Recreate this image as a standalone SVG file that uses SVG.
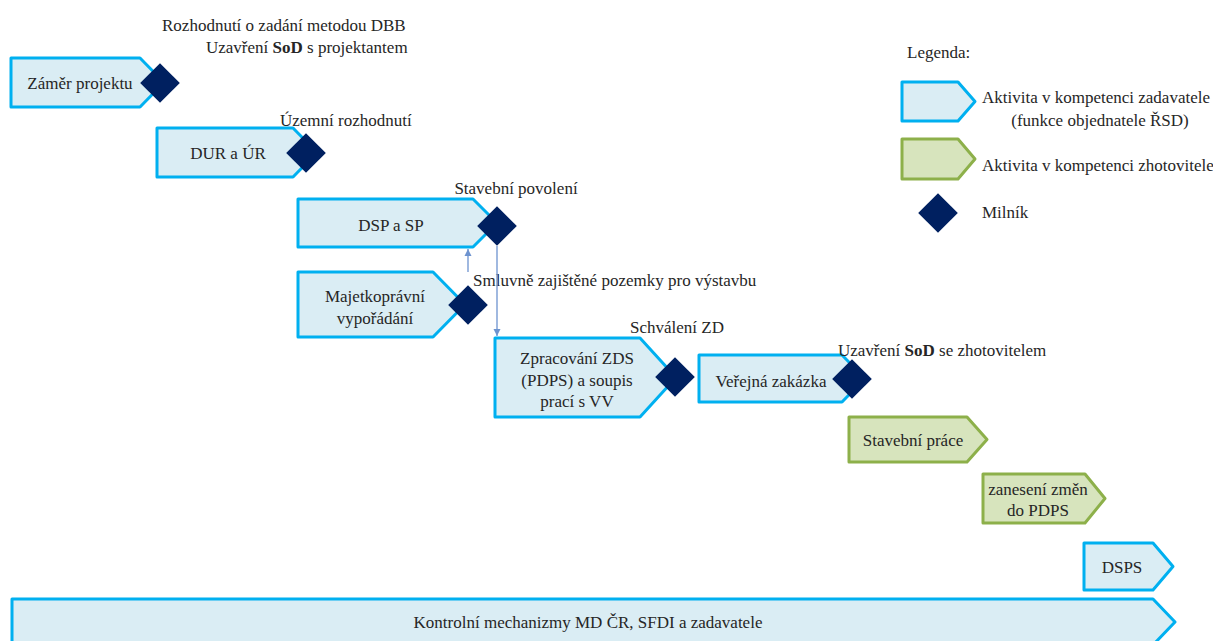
<svg xmlns="http://www.w3.org/2000/svg" width="1213" height="641" viewBox="0 0 1213 641">
<style>
text{font-family:"Liberation Serif","Times New Roman",serif;font-size:17px;fill:#262626}
.c{text-anchor:middle;dominant-baseline:central}
.s{dominant-baseline:central}
.blue{fill:#daedf4;stroke:#00b0f0;stroke-width:3;stroke-linejoin:round}
.green{fill:#d7e4bd;stroke:#8db04a;stroke-width:3;stroke-linejoin:round}
.ms{fill:#002060}
.conn{stroke:#6d93cf;stroke-width:1.3;fill:none}
</style>
<defs>
<marker id="ah" markerWidth="8" markerHeight="8" refX="7" refY="4" orient="auto" markerUnits="userSpaceOnUse">
<path d="M0,0.5 L7,4 L0,7.5 Z" fill="#6d93cf"/>
</marker>
</defs>
<rect width="1213" height="641" fill="#ffffff"/>

<g id="n-zamer">
<path class="blue" d="M11,58 H140 L164,82.5 L140,107 H11 Z"/>
<text class="c" x="80" y="83">Záměr projektu</text>
<rect class="ms" x="146" y="69" width="28" height="28" transform="rotate(45 160 83)"/>
<text x="162" y="25" class="s">Rozhodnutí o zadání metodou DBB</text>
<text x="206" y="47" class="s">Uzavření <tspan font-weight="bold">SoD</tspan> s projektantem</text>
</g>

<g id="n-dur">
<path class="blue" d="M157,128 H293 L317,152.5 L293,177 H157 Z"/>
<text class="c" x="228" y="153">DUR a ÚR</text>
<rect class="ms" x="292" y="139" width="28" height="28" transform="rotate(45 306 153)"/>
<text x="280" y="120" class="s">Územní rozhodnutí</text>
</g>

<g id="n-dsp">
<path class="blue" d="M298,199 H473 L497,223 L473,247 H298 Z"/>
<text class="c" x="391" y="225">DSP a SP</text>
<rect class="ms" x="483" y="212" width="28" height="28" transform="rotate(45 497 226)"/>
<text class="c" x="516" y="188">Stavební povolení</text>
</g>

<g id="n-majetek">
<path class="blue" d="M298,272 H433 L465,304.5 L433,337 H298 Z"/>
<text class="c" x="375" y="296">Majetkoprávní</text>
<text class="c" x="375" y="318">vypořádání</text>
<rect class="ms" x="454" y="291" width="28" height="28" transform="rotate(45 468 305)"/>
<text x="473" y="280" class="s">Smluvně zajištěné pozemky pro výstavbu</text>
</g>

<g id="n-zds">
<path class="blue" d="M495,338 H640 L676,377.5 L640,417 H495 Z"/>
<text class="c" x="577" y="358">Zpracování ZDS</text>
<text class="c" x="577" y="380">(PDPS) a soupis</text>
<text class="c" x="577" y="401">prací s VV</text>
<rect class="ms" x="661" y="363" width="28" height="28" transform="rotate(45 675 377)"/>
<text class="c" x="677" y="327">Schválení ZD</text>
</g>

<g id="n-vz">
<path class="blue" d="M699,355 H842 L865,378.5 L842,402 H699 Z"/>
<text class="c" x="771" y="381">Veřejná zakázka</text>
<rect class="ms" x="838" y="365" width="28" height="28" transform="rotate(45 852 379)"/>
<text x="838" y="350" class="s">Uzavření <tspan font-weight="bold">SoD</tspan> se zhotovitelem</text>
</g>

<g id="n-stavebni-prace">
<path class="green" d="M849,417 H967 L987,439.5 L967,462 H849 Z"/>
<text class="c" x="913" y="440">Stavební práce</text>
</g>

<g id="n-zaneseni">
<path class="green" d="M983,474 H1085 L1105,498.5 L1085,523 H983 Z"/>
<text class="c" x="1038" y="489">zanesení změn</text>
<text class="c" x="1038" y="510">do PDPS</text>
</g>

<g id="n-dsps">
<path class="blue" d="M1084,543 H1153 L1173,566.5 L1153,590 H1084 Z"/>
<text class="c" x="1122" y="567">DSPS</text>
</g>

<g id="n-kontrola">
<path class="blue" d="M12,599 H1153 L1175,622 L1153,645 H12 Z"/>
<text class="c" x="588" y="622">Kontrolní mechanizmy MD ČR, SFDI a zadavatele</text>
</g>

<g id="legend">
<text x="907" y="52" class="s">Legenda:</text>
<path class="blue" d="M902,82 H958 L975,101.5 L958,121 H902 Z"/>
<text x="982" y="97" class="s">Aktivita v kompetenci  zadavatele</text>
<text class="c" x="1100" y="120">(funkce objednatele ŘSD)</text>
<path class="green" d="M902,139 H958 L975,159 L958,179 H902 Z"/>
<text x="982" y="165" class="s">Aktivita v kompetenci zhotovitele</text>
<rect class="ms" x="924" y="199" width="28" height="28" transform="rotate(45 938 213)"/>
<text x="982" y="212" class="s">Milník</text>
</g>

<g id="connectors">
<line class="conn" x1="468" y1="272" x2="468" y2="249" marker-end="url(#ah)"/>
<line class="conn" x1="497" y1="246" x2="497" y2="336" marker-end="url(#ah)"/>
</g>
</svg>
